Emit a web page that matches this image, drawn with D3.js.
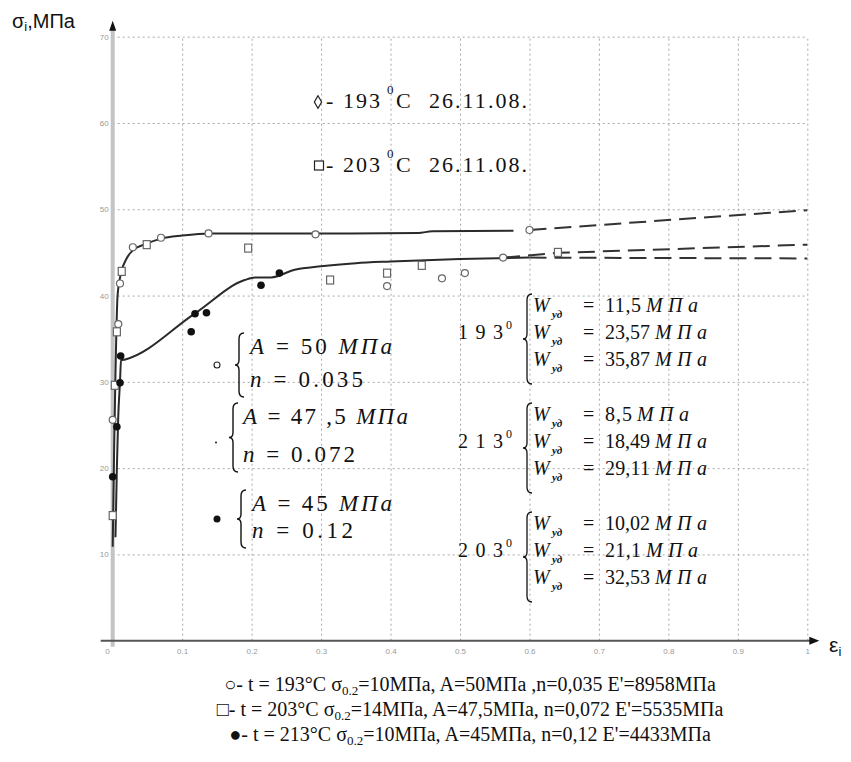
<!DOCTYPE html>
<html>
<head>
<meta charset="utf-8">
<script src="https://cdn.jsdelivr.net/npm/d3@7"></script>
<style>
    body { margin: 0; background: #fff; }
    svg { display: block; }
    .grid line { stroke: #a8a8a8; stroke-dasharray: 2,3; }
    .grid .tick text { font-family: "Liberation Sans", Arial, sans-serif; font-size: 8px; fill: #999; }
    .serif { font-family: "Liberation Serif", "Times New Roman", serif; fill: #111; }
    .sans { font-family: "Liberation Sans", Arial, sans-serif; fill: #111; }
</style>
</head>
<body>
<svg id="chart" width="851" height="762"></svg>
<script>
// tick values
const xTicks = [0.1, 0.2, 0.3, 0.4, 0.5, 0.6, 0.7, 0.8, 0.9, 1];
const yTicks = [10, 20, 30, 40, 50, 60, 70];

// measured points [strain, stress]
const pts193 = [[0, 25.6], [0.008, 36.7], [0.0105, 41.4], [0.029, 45.6], [0.0695, 46.7], [0.138, 47.2],
    [0.292, 47.1], [0.6, 47.6], [0.395, 41.1], [0.474, 42.0], [0.507, 42.6], [0.562, 44.4]];
const pts203 = [[0, 14.5], [0.003, 29.6], [0.006, 35.8], [0.013, 42.8], [0.049, 45.9], [0.195, 45.5],
    [0.313, 41.8], [0.395, 42.6], [0.445, 43.5], [0.641, 45.0]];
const pts213 = [[0, 19.0], [0.006, 24.8], [0.0105, 29.9], [0.0115, 33.0], [0.113, 35.8], [0.1185, 37.9],
    [0.135, 38.0], [0.2135, 41.2], [0.24, 42.6]];

// fitted curves (solid) and their extrapolation (dashed)
const fit193 = [[0, 10.9], [0.002, 22], [0.004, 31], [0.007, 40], [0.012, 42.6], [0.02, 44.3], [0.03, 45.3],
    [0.045, 45.9], [0.07, 46.6], [0.1, 46.95], [0.14, 47.2], [0.3, 47.2], [0.44, 47.25], [0.46, 47.45], [0.577, 47.5]];
const fit213 = [[0.004, 12], [0.006, 20], [0.008, 26], [0.0105, 30], [0.012, 32.5], [0.018, 32.6], [0.118, 37.9],
    [0.19, 41.8], [0.205, 42.1], [0.228, 42.1], [0.262, 43.0], [0.3, 43.4], [0.35, 43.75], [0.4, 43.95],
    [0.5, 44.25], [0.6, 44.4]];
const ext193 = [[0.6, 47.6], [1, 49.9]];
const ext213 = [[0.6, 44.4], [1, 44.3]];
const ext203 = [[0.562, 44.4], [0.641, 44.95], [1, 45.9]];

// annotation texts
const legendTop = [
    { sym: 'diamond', temp: '193', date: '26.11.08.' },
    { sym: 'square', temp: '203', date: '26.11.08.' }
];
const paramBlocks = [
    { sym: 'open', a: '50', n: '0.035' },
    { sym: 'dot', a: '47 ,5', n: '0.072' },
    { sym: 'filled', a: '45', n: '0.12' }
];
const energyBlocks = [
    { temp: '193', w: ['11,5', '23,57', '35,87'] },
    { temp: '213', w: ['8,5', '18,49', '29,11'] },
    { temp: '203', w: ['10,02', '21,1', '32,53'] }
];
const captions = [
    { mark: '○', t: '193', s: '10', a: '50', n: ' ,n=0,035', e: '8958' },
    { mark: '□', t: '203', s: '14', a: '47,5', n: ', n=0,072', e: '5535' },
    { mark: '●', t: '213', s: '10', a: '45', n: ', n=0,12', e: '4433' }
];

const svg = d3.select('#chart');

const x = d3.scaleLinear().domain([0, 1]).range([112.7, 807.3]);
const y = d3.scaleLinear().domain([0, 70]).range([640.7, 36.7]);

// grid + tick labels
const gx = svg.append('g')
    .attr('class', 'grid')
    .attr('transform', `translate(0,${y(0)})`)
    .call(d3.axisBottom(x)
        .tickValues(xTicks)
        .tickSize(-(y(0) - y(70)))
        .tickPadding(8)
        .tickFormat(d => d === 1 ? '1' : d3.format('.1f')(d)));
gx.select('.domain').remove();

const gy = svg.append('g')
    .attr('class', 'grid')
    .attr('transform', `translate(${x(0)},0)`)
    .call(d3.axisLeft(y)
        .tickValues(yTicks)
        .tickSize(-(x(1) - x(0)))
        .tickPadding(4));
gy.select('.domain').remove();

svg.append('text')
    .attr('x', x(0) - 3).attr('y', y(0) + 13)
    .attr('text-anchor', 'end')
    .attr('font-family', 'Liberation Sans, Arial, sans-serif')
    .attr('font-size', 8).attr('fill', '#999')
    .text('0');

// axes
svg.append('line')
    .attr('x1', x(0)).attr('x2', x(0))
    .attr('y1', y(0) + 6).attr('y2', y(70) - 8)
    .attr('stroke', '#c4c4c4').attr('stroke-width', 4);
svg.append('path')
    .attr('d', `M${x(0)},${y(70) - 16}L${x(0) - 3.5},${y(70) - 6}L${x(0) + 3.5},${y(70) - 6}Z`)
    .attr('fill', '#111');

svg.append('line')
    .attr('x1', x(0) - 12).attr('x2', x(1) + 4)
    .attr('y1', y(0)).attr('y2', y(0))
    .attr('stroke', '#555').attr('stroke-width', 2);
svg.append('path')
    .attr('d', `M${x(1) + 12},${y(0)}L${x(1) + 2},${y(0) - 4}L${x(1) + 2},${y(0) + 4}Z`)
    .attr('fill', '#111');

// axis titles
const yt = svg.append('text').attr('class', 'sans').attr('x', 12).attr('y', 28).attr('font-size', 20);
yt.append('tspan').text('σ');
yt.append('tspan').attr('font-size', 13).attr('dy', 3).text('i');
yt.append('tspan').attr('dy', -3).text(',MПа');

const xt = svg.append('text').attr('class', 'sans').attr('x', 829).attr('y', 652).attr('font-size', 21);
xt.append('tspan').text('ε');
xt.append('tspan').attr('font-size', 13).attr('dy', 4).text('i');

// curves
const line = d3.line()
    .x(d => x(d[0]))
    .y(d => y(d[1]))
    .curve(d3.curveMonotoneX);

[fit193, fit213].forEach(data => {
    svg.append('path')
        .datum(data)
        .attr('d', line)
        .attr('fill', 'none')
        .attr('stroke', '#2a2a2a')
        .attr('stroke-width', 2);
});

[ext193, ext213, ext203].forEach(data => {
    svg.append('path')
        .datum(data)
        .attr('d', d3.line().x(d => x(d[0])).y(d => y(d[1])))
        .attr('fill', 'none')
        .attr('stroke', '#333')
        .attr('stroke-width', 2)
        .attr('stroke-dasharray', '17,8');
});

// markers
svg.selectAll('.c193')
    .data(pts193)
    .enter()
    .append('circle')
    .attr('class', 'c193')
    .attr('cx', d => x(d[0]))
    .attr('cy', d => y(d[1]))
    .attr('r', 3.5)
    .attr('fill', '#fff')
    .attr('stroke', '#666')
    .attr('stroke-width', 1.2);

svg.selectAll('.s203')
    .data(pts203)
    .enter()
    .append('rect')
    .attr('class', 's203')
    .attr('x', d => x(d[0]) - 3.5)
    .attr('y', d => y(d[1]) - 4)
    .attr('width', 7)
    .attr('height', 8)
    .attr('fill', '#fff')
    .attr('stroke', '#666')
    .attr('stroke-width', 1.2);

svg.selectAll('.f213')
    .data(pts213)
    .enter()
    .append('circle')
    .attr('class', 'f213')
    .attr('cx', d => x(d[0]))
    .attr('cy', d => y(d[1]))
    .attr('r', 3.8)
    .attr('fill', '#111');

// legend at the top
legendTop.forEach((d, i) => {
    const by = 108 + i * 64;
    if (d.sym === 'diamond') {
        svg.append('path')
            .attr('d', d3.symbol(d3.symbolDiamond, 46)())
            .attr('transform', `translate(318,${by - 6})`)
            .attr('fill', '#fff').attr('stroke', '#222').attr('stroke-width', 1.2);
    } else {
        svg.append('rect')
            .attr('x', 314.5).attr('y', by - 11).attr('width', 9).attr('height', 9)
            .attr('fill', '#fff').attr('stroke', '#222').attr('stroke-width', 1.2);
    }
    const g = svg.append('g').attr('class', 'serif').attr('font-size', 22);
    g.append('text').attr('x', 326).attr('y', by).text('-');
    g.append('text').attr('x', 343).attr('y', by).attr('textLength', 37).text(d.temp);
    g.append('text').attr('x', 387).attr('y', by - 14).attr('font-size', 13).text('0');
    g.append('text').attr('x', 396).attr('y', by).text('C');
    g.append('text').attr('x', 429).attr('y', by).attr('textLength', 98).text(d.date);
});

// brace helper
function brace(bx, top, bottom) {
    const mid = (top + bottom) / 2;
    return `M${bx + 5},${top} Q${bx},${top} ${bx},${top + 6} L${bx},${mid - 5} Q${bx},${mid} ${bx - 4},${mid}` +
        ` Q${bx},${mid} ${bx},${mid + 5} L${bx},${bottom - 6} Q${bx},${bottom} ${bx + 5},${bottom}`;
}

// parameter blocks A, n
const pLayout = [
    { top: 333, bottom: 397, bx: 239, tx: 250, mx: 217, wa: 142, wn: 113 },
    { top: 403, bottom: 472, bx: 233, tx: 243, mx: 216, wa: 165, wn: 112 },
    { top: 490, bottom: 548, bx: 241, tx: 252, mx: 217, wa: 140, wn: 101 }
];
paramBlocks.forEach((d, i) => {
    const L = pLayout[i];
    const my = (L.top + L.bottom) / 2;
    if (d.sym === 'open') {
        svg.append('circle').attr('cx', L.mx).attr('cy', my).attr('r', 3)
            .attr('fill', '#fff').attr('stroke', '#222').attr('stroke-width', 1.1);
    } else if (d.sym === 'dot') {
        svg.append('circle').attr('cx', L.mx).attr('cy', my + 5).attr('r', 1).attr('fill', '#222');
    } else {
        svg.append('circle').attr('cx', L.mx).attr('cy', my).attr('r', 3.5).attr('fill', '#111');
    }
    svg.append('path').attr('d', brace(L.bx, L.top, L.bottom))
        .attr('fill', 'none').attr('stroke', '#111').attr('stroke-width', 1.4);

    const ta = svg.append('text').attr('class', 'serif').attr('font-size', 23)
        .attr('x', L.tx).attr('y', L.top + 21)
        .attr('textLength', L.wa).attr('lengthAdjust', 'spacing');
    ta.append('tspan').attr('font-style', 'italic').text('A');
    ta.append('tspan').text(' = ' + d.a + ' ');
    ta.append('tspan').attr('font-style', 'italic').text('MПa');

    const tn = svg.append('text').attr('class', 'serif').attr('font-size', 23)
        .attr('x', L.tx).attr('y', L.bottom - 10)
        .attr('textLength', L.wn).attr('lengthAdjust', 'spacing');
    tn.append('tspan').attr('font-style', 'italic').text('n');
    tn.append('tspan').text(' = ' + d.n);
});

// energy blocks W
energyBlocks.forEach((d, i) => {
    const mid = 339 + i * 109;
    svg.append('text').attr('class', 'serif').attr('font-size', 20)
        .attr('x', 458).attr('y', mid).attr('textLength', 45).text(d.temp);
    svg.append('text').attr('class', 'serif').attr('font-size', 12)
        .attr('x', 506).attr('y', mid - 10).text('0');
    svg.append('path').attr('d', brace(527, mid - 45, mid + 45))
        .attr('fill', 'none').attr('stroke', '#111').attr('stroke-width', 1.3);
    d.w.forEach((w, j) => {
        const by = mid + (j - 1) * 27;
        svg.append('text').attr('class', 'serif').attr('font-size', 20).attr('font-style', 'italic')
            .attr('x', 533).attr('y', by).text('W');
        svg.append('text').attr('class', 'serif').attr('font-size', 11).attr('font-style', 'italic')
            .attr('font-weight', 'bold').attr('x', 552).attr('y', by + 6).text('уд');
        svg.append('text').attr('class', 'serif').attr('font-size', 20)
            .attr('x', 583).attr('y', by).text('=');
        const vw = w.length * 9;
        svg.append('text').attr('class', 'serif').attr('font-size', 20)
            .attr('x', 605).attr('y', by)
            .attr('textLength', vw).attr('lengthAdjust', 'spacing').text(w);
        svg.append('text').attr('class', 'serif').attr('font-size', 20).attr('font-style', 'italic')
            .attr('x', 605 + vw + 5).attr('y', by)
            .attr('textLength', 52).attr('lengthAdjust', 'spacing').text('MПa');
    });
});

// caption lines
captions.forEach((d, i) => {
    const t = svg.append('text').attr('class', 'serif').attr('font-size', 20)
        .attr('x', 470).attr('y', 691 + i * 25).attr('text-anchor', 'middle');
    t.append('tspan').text(`${d.mark}- t = ${d.t}°C σ`);
    t.append('tspan').attr('font-size', 13).attr('dy', 4).text('0.2');
    t.append('tspan').attr('dy', -4).text(`=${d.s}MПa, A=${d.a}MПa${d.n} E'=${d.e}MПa`);
});
</script>
</body>
</html>
